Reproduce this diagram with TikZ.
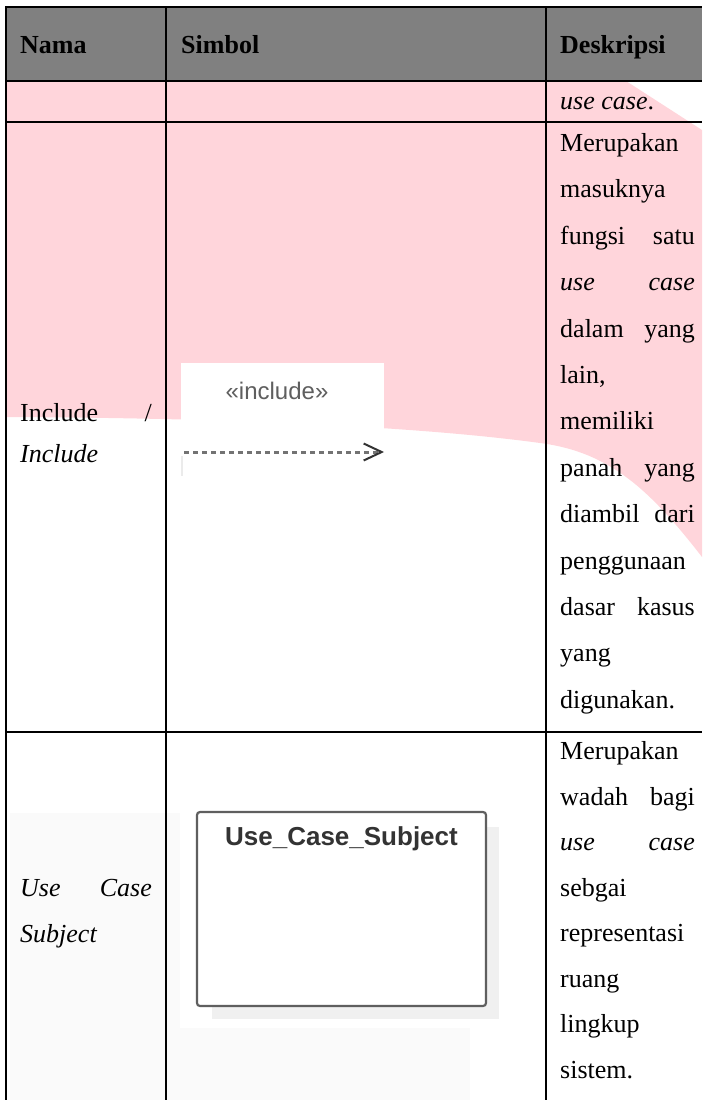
\documentclass[tikz,border=0pt]{standalone}
\usepackage{color}
\usepackage{xcolor}
\usepackage{fontspec}
\setmainfont{Liberation Serif}
\newfontfamily\uifont{Liberation Sans}
\usepackage{tikz}
\usetikzlibrary{positioning,arrows.meta}
\definecolor{wmpink}{RGB}{255,213,219}
\definecolor{headgray}{RGB}{128,128,128}
\definecolor{umlgray}{RGB}{95,95,95}
\definecolor{umltext}{RGB}{51,51,51}

\begin{document}
\begin{tikzpicture}[x=1pt, y=-1pt,
                    txt/.style = {anchor=base west, inner sep=0pt, font=\fontsize{26}{30}\selectfont},
                    txtr/.style = {txt, anchor=base east},
                    head/.style = {txt, font=\fontsize{26}{30}\selectfont\bfseries},
                    rule/.style = {line width=2pt, draw=black},
                    stereo/.style = {anchor=base, inner sep=0pt, text=umlgray, font=\uifont\fontsize{24}{27}\selectfont},
                    subject/.style = {draw=umlgray, line width=2.2pt, fill=white, rounded corners=3pt, minimum width=289pt, minimum height=194pt, inner sep=0pt},
                    uctitle/.style = {anchor=base, inner sep=0pt, text=umltext, font=\uifont\fontsize{26}{29}\selectfont\bfseries},
                    dep/.style = {draw=black!55, line width=3pt, dash pattern=on 5pt off 4pt, -{Straight Barb[length=18pt, width=17pt, line width=2pt, color=black!80]}}]
  \useasboundingbox (0,0) rectangle (702,1100);
  
  % background marks
  \fill[wmpink] (6,81) -- (626,81) -- (702,130) -- (702,557) .. controls (650,490) and (610,452) .. (540,443) .. controls (430,428) and (250,418) .. (6,417) -- cycle;
  \fill[headgray] (6,7) rectangle (702,81);
  \fill[white] (181,363) rectangle (384,477);
  \fill[black!8] (181,456) rectangle (183,476);
  \fill[black!2] (10,813) rectangle (470,1100);
  \fill[white] (180,813) rectangle (512,1028);
  \fill[black!6] (212,827) rectangle (499,1019);
  
  % table rules
  \draw[rule] (5,7) -- (702,7);
  \draw[rule] (5,81) -- (702,81);
  \draw[rule] (5,122) -- (702,122);
  \draw[rule] (5,732) -- (702,732);
  \draw[rule] (6,7) -- (6,1100);
  \draw[rule] (166,7) -- (166,1100);
  \draw[rule] (546,7) -- (546,1100);
  
  % header
  \node[head] (h-nama) at (20,53) {Nama};
  \node[head] (h-simbol) at (181,53) {Simbol};
  \node[head] (h-desk) at (560,53) {Deskripsi};
  
  % row: use case (end)
  \node[txt] (uc-d0) at (560,109) {\textit{use case}.};
  
  % row: include
  \node[txt] (inc-n0) at (20,421) {Include};
  \node[txtr] (inc-n1) at (152,421) {/};
  \node[txt] (inc-n2) at (20,462) {\textit{Include}};
  
  \node[stereo] (inc-label) at (277,399) {«include»};
  \coordinate (dep-from) at (184,452);
  \coordinate (dep-to) at (384,452);
  \draw[dep] (dep-from) -- (dep-to);
  
  \node[txt] (inc-d0) at (560,151) {Merupakan};
  \node[txt] (inc-d1) at (560,197) {masuknya};
  \node[txt] (inc-d2a) at (560,244) {fungsi};
  \node[txtr] (inc-d2b) at (695,244) {satu};
  \node[txt] (inc-d3a) at (560,290) {\textit{use}};
  \node[txtr] (inc-d3b) at (695,290) {\textit{case}};
  \node[txt] (inc-d4a) at (560,337) {dalam};
  \node[txtr] (inc-d4b) at (695,337) {yang};
  \node[txt] (inc-d5) at (560,383) {lain,};
  \node[txt] (inc-d6) at (560,429) {memiliki};
  \node[txt] (inc-d7a) at (560,476) {panah};
  \node[txtr] (inc-d7b) at (695,476) {yang};
  \node[txt] (inc-d8a) at (560,522) {diambil};
  \node[txtr] (inc-d8b) at (695,522) {dari};
  \node[txt] (inc-d9) at (560,569) {penggunaan};
  \node[txt] (inc-d10a) at (560,615) {dasar};
  \node[txtr] (inc-d10b) at (695,615) {kasus};
  \node[txt] (inc-d11) at (560,661) {yang};
  \node[txt] (inc-d12) at (560,708) {digunakan.};
  
  % row: use case subject
  \node[txt] (ucs-n0) at (20,896) {\textit{Use}};
  \node[txtr] (ucs-n1) at (152,896) {\textit{Case}};
  \node[txt] (ucs-n2) at (20,942) {\textit{Subject}};
  
  \node[subject] (ucs-box) at (341.5,909) {};
  \node[uctitle] (ucs-title) at (341.5,845) {Use\_Case\_Subject};
  
  \node[txt] (ucs-d0) at (560,759) {Merupakan};
  \node[txt] (ucs-d1a) at (560,805) {wadah};
  \node[txtr] (ucs-d1b) at (695,805) {bagi};
  \node[txt] (ucs-d2a) at (560,850) {\textit{use}};
  \node[txtr] (ucs-d2b) at (695,850) {\textit{case}};
  \node[txt] (ucs-d3) at (560,896) {sebgai};
  \node[txt] (ucs-d4) at (560,941) {representasi};
  \node[txt] (ucs-d5) at (560,987) {ruang};
  \node[txt] (ucs-d6) at (560,1032) {lingkup};
  \node[txt] (ucs-d7) at (560,1078) {sistem.};
\end{tikzpicture}
\end{document}
